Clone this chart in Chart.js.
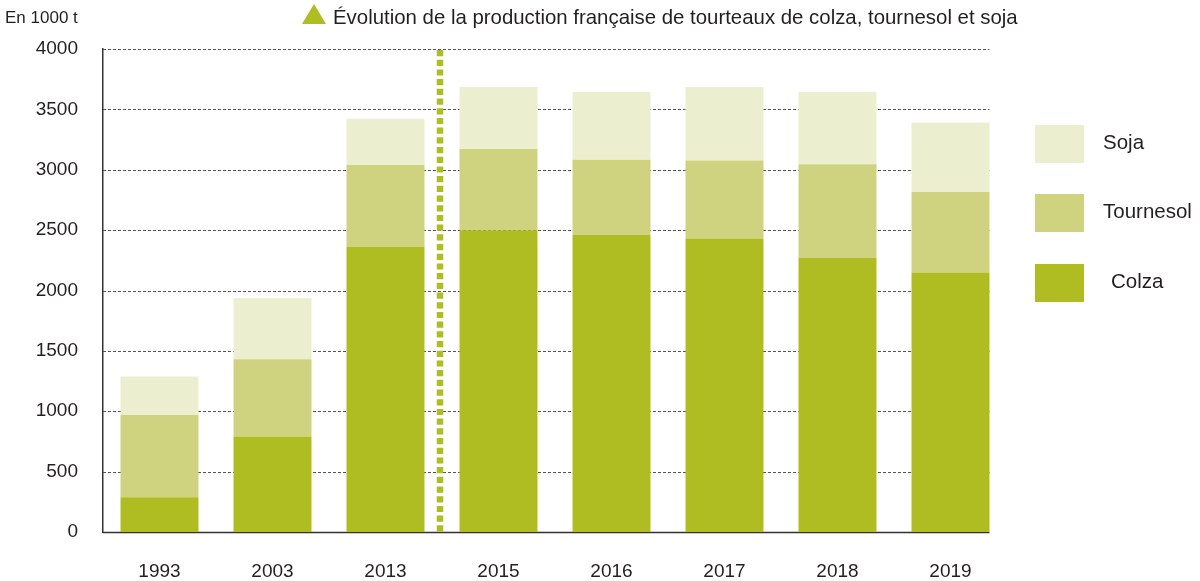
<!DOCTYPE html>
<html>
<head>
<meta charset="utf-8">
<script src="https://cdn.jsdelivr.net/npm/chart.js@4/dist/chart.umd.min.js"></script>
<style>
  html, body { margin: 0; padding: 0; background: #fff; }
  #wrap { width: 1200px; height: 581px; position: relative; }
</style>
</head>
<body>
<div id="wrap"><canvas id="c" width="1200" height="581"></canvas></div>
<script>
const years = ['1993', '2003', '2013', '2015', '2016', '2017', '2018', '2019'];
const colza = [288, 790, 2360, 2500, 2460, 2430, 2270, 2150];
const tournesol = [680, 641, 680, 672, 622, 647, 775, 666];
const soja = [320, 505, 382, 513, 561, 608, 600, 575];
const yTicks = [0, 500, 1000, 1500, 2000, 2500, 3000, 3500, 4000];
const titleText = 'Évolution de la production française de tourteaux de colza, tournesol et soja';
const unitText = 'En 1000 t';

const FONT = '"Liberation Sans", Arial, Helvetica, sans-serif';
const C_COLZA = '#afbc22';
const C_TOURN = '#cfd27e';
const C_SOJA = '#ebefd0';
const TEXT = '#231f20';

const decor = {
  id: 'decor',
  beforeDatasetsDraw(chart) {
    const ctx = chart.ctx, y = chart.scales.y, a = chart.chartArea;
    const meta = chart.getDatasetMeta(0);
    const last = meta.data[meta.data.length - 1];
    const right = last.x + last.width / 2;
    ctx.save();
    ctx.strokeStyle = '#555';
    ctx.lineWidth = 1.2;
    ctx.setLineDash([3, 2]);
    yTicks.forEach(v => {
      if (v === 0) return;
      const py = Math.round(y.getPixelForValue(v)) + 0.5;
      ctx.beginPath();
      ctx.moveTo(a.left, py);
      ctx.lineTo(right, py);
      ctx.stroke();
    });
    ctx.setLineDash([]);
    ctx.strokeStyle = '#333';
    ctx.lineWidth = 1.5;
    const by = y.getPixelForValue(0) + 0.5;
    ctx.beginPath();
    ctx.moveTo(a.left, by);
    ctx.lineTo(right, by);
    ctx.stroke();
    ctx.restore();
  },
  afterDatasetsDraw(chart) {
    const ctx = chart.ctx, y = chart.scales.y, x = chart.scales.x;
    const px = (x.getPixelForValue(2) + x.getPixelForValue(3)) / 2 - 2;
    ctx.save();
    ctx.strokeStyle = C_COLZA;
    ctx.lineWidth = 6.5;
    ctx.setLineDash([6.2, 3.5]);
    ctx.beginPath();
    ctx.moveTo(px, y.getPixelForValue(4000) + 1);
    ctx.lineTo(px, y.getPixelForValue(0));
    ctx.stroke();
    ctx.restore();
  },
  afterDraw(chart) {
    const ctx = chart.ctx;
    ctx.save();
    ctx.fillStyle = C_COLZA;
    ctx.beginPath();
    ctx.moveTo(314, 4);
    ctx.lineTo(326, 24);
    ctx.lineTo(302, 24);
    ctx.closePath();
    ctx.fill();
    ctx.fillStyle = TEXT;
    ctx.font = '20.4px ' + FONT;
    ctx.textBaseline = 'alphabetic';
    ctx.textAlign = 'left';
    ctx.fillText(titleText, 333, 24);
    ctx.font = '17px ' + FONT;
    ctx.fillText(unitText, 5, 23);
    const ds = chart.data.datasets;
    const order = [2, 1, 0];
    const tops = [125, 194, 264];
    ctx.font = '20.5px ' + FONT;
    ctx.textBaseline = 'middle';
    order.forEach((i, k) => {
      ctx.fillStyle = ds[i].backgroundColor;
      ctx.fillRect(1035, tops[k], 49, 38);
      ctx.fillStyle = TEXT;
      ctx.fillText(ds[i].label, i === 0 ? 1111 : 1103, tops[k] + 18);
    });
    ctx.restore();
  }
};

new Chart(document.getElementById('c'), {
  type: 'bar',
  data: {
    labels: years,
    datasets: [
      { label: 'Colza', data: colza, backgroundColor: C_COLZA },
      { label: 'Tournesol', data: tournesol, backgroundColor: C_TOURN },
      { label: 'Soja', data: soja, backgroundColor: C_SOJA }
    ]
  },
  options: {
    responsive: false,
    animation: false,
    devicePixelRatio: 1,
    layout: { padding: { left: 0, top: 49, right: 193, bottom: 0 } },
    datasets: { bar: { categoryPercentage: 1, barPercentage: 0.69, borderWidth: 0 } },
    plugins: { legend: { display: false }, tooltip: { enabled: false }, title: { display: false } },
    scales: {
      x: {
        stacked: true,
        grid: { display: false, drawTicks: false },
        border: { display: false },
        ticks: { color: TEXT, font: { family: FONT, size: 19 }, padding: 28, maxRotation: 0 },
        afterFit(s) { s.height = 49; }
      },
      y: {
        stacked: true,
        min: 0, max: 4000,
        grid: { display: false, drawTicks: false },
        border: { display: true, color: '#333', width: 1.5 },
        ticks: {
          stepSize: 500, color: TEXT, font: { family: FONT, size: 19 }, padding: 25,
          callback: v => String(v)
        },
        afterFit(s) { s.width = 103; }
      }
    }
  },
  plugins: [decor]
});
</script>
</body>
</html>
